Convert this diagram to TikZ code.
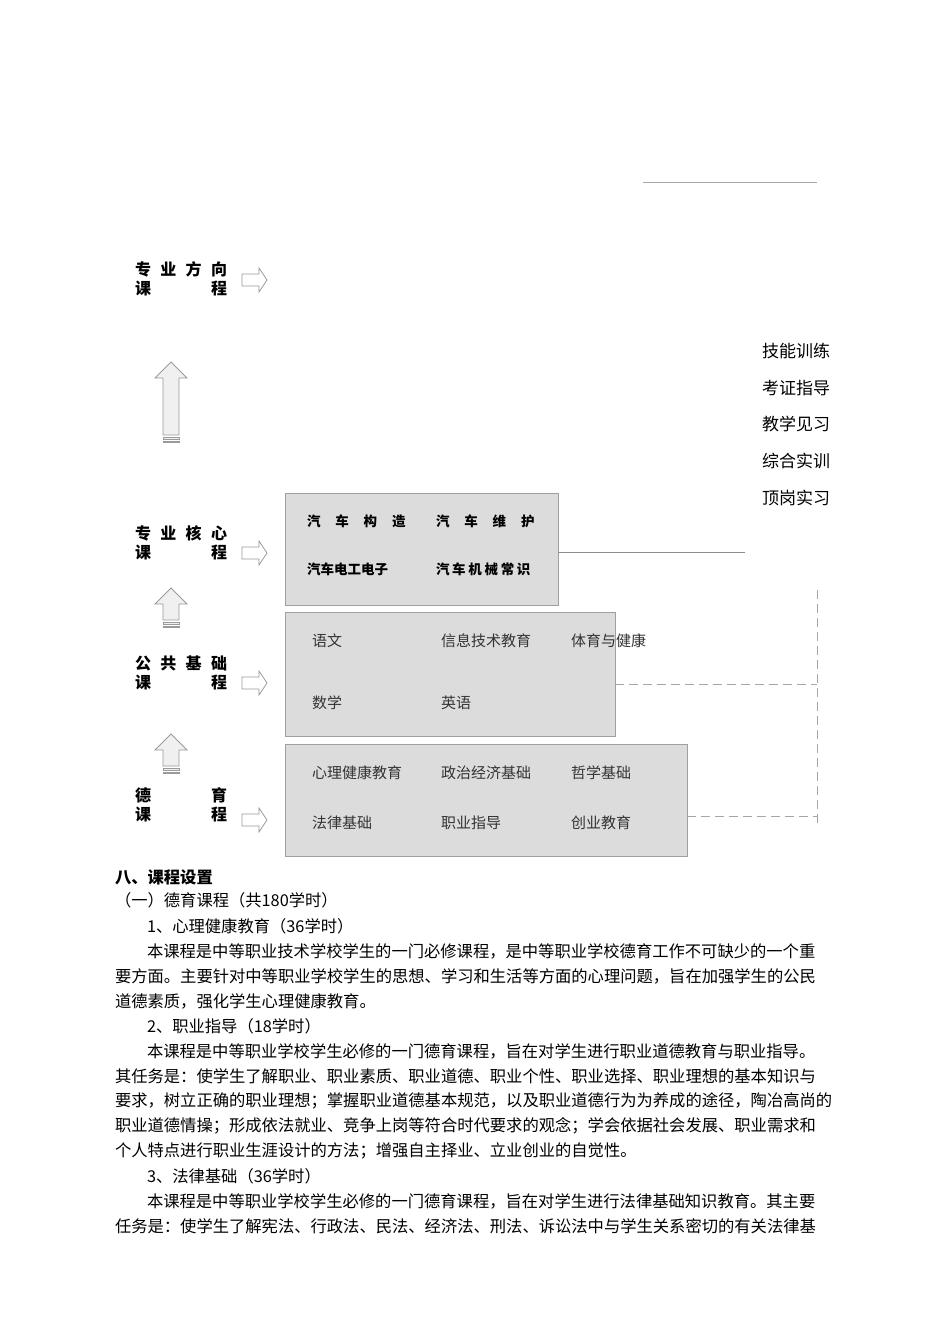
\documentclass[tikz,border=0pt]{standalone}
\usepackage{fontspec}
\setmainfont{Noto Sans CJK SC}
\definecolor{boxfill}{HTML}{DCDCDC}
\definecolor{boxline}{HTML}{A0A0A0}
\definecolor{arrline}{HTML}{9A9A9A}
\definecolor{arrfill}{HTML}{F0F0F0}
\newcommand\myrarrow[1]{\draw[arrline,fill=white,line width=0.8pt] (242,#1) ++(0,-6) -- ++(17,0) -- ++(0,-6) -- ++(8,12) -- ++(-8,12) -- ++(0,-6) -- ++(-17,0) -- cycle;}
\newcommand\myuarrow[3]{% x center, tip y, shaft end y
\draw[arrline,fill=arrfill,line width=0.8pt] (#1,#2) -- ++(16,16) -- ++(-8,0) |- (#1-8,#3) -- ++(0,#2-#3+16) -- ++(-8,0) -- cycle;
\draw[arrline,fill=arrfill,line width=0.8pt] (#1-8,#3+2) rectangle (#1+8,#3+4);
\draw[arrline,fill=arrfill,line width=0.8pt] (#1-8,#3+6) rectangle (#1+8,#3+7);}
\begin{document}
\begin{tikzpicture}[x=1pt,y=-1pt,
  every node/.style={inner sep=0pt,outer sep=0pt},
  box/.style={draw=boxline,fill=boxfill,line width=0.8pt},
  lbl/.style={anchor=north west,text width=92pt,align=left,font=\fontsize{16}{18.5}\selectfont\bfseries},
  core/.style={anchor=west,font=\fontsize{13.5}{15}\selectfont\bfseries},
  crs/.style={anchor=west,font=\fontsize{15}{17}\selectfont,text=black!80},
  prac/.style={anchor=west,font=\fontsize{17}{19}\selectfont},
  body/.style={anchor=west,font=\fontsize{16.3}{18}\selectfont},
  conn/.style={draw=black!45,line width=0.7pt},
  dconn/.style={draw=black!35,line width=0.7pt,dash pattern=on 9pt off 5pt}]
\useasboundingbox (0,0) rectangle (950,1344);
\draw[black!35,line width=0.7pt] (643,182) -- (817,182);
% labels
\node[lbl] (l1) at (135,262) {专\hfill 业\hfill 方\hfill 向\\课\hfill 程};
\node[lbl] (l2) at (135,526) {专\hfill 业\hfill 核\hfill 心\\课\hfill 程};
\node[lbl] (l3) at (135,656) {公\hfill 共\hfill 基\hfill 础\\课\hfill 程};
\node[lbl] (l4) at (135,788) {德\hfill 育\\课\hfill 程};
\myrarrow{280}
\myrarrow{553}
\myrarrow{683}
\myrarrow{820}
\myuarrow{171}{362}{435}
\myuarrow{171}{588}{620}
\myuarrow{171}{734}{766}
% boxes
\node[box,minimum width=273pt,minimum height=112pt,anchor=north west] (b1) at (285,493) {};
\node[box,minimum width=330pt,minimum height=124pt,anchor=north west] (b2) at (285,612) {};
\node[box,minimum width=402pt,minimum height=112pt,anchor=north west] (b3) at (285,744) {};
\node[core] (c1) at (307,521) {汽\hspace{1.1em}车\hspace{1.1em}构\hspace{1.1em}造};
\node[core] (c2) at (436,521) {汽\hspace{1.1em}车\hspace{1.1em}维\hspace{1.1em}护};
\node[core] (c3) at (307,569) {汽车电工电子};
\node[core] (c4) at (436,569) {汽\hspace{0.2em}车\hspace{0.2em}机\hspace{0.2em}械\hspace{0.2em}常\hspace{0.2em}识};
\node[crs] (p1) at (312,641) {语文};
\node[crs] (p2) at (441,641) {信息技术教育};
\node[crs] (p3) at (571,641) {体育与健康};
\node[crs] (p4) at (312,703) {数学};
\node[crs] (p5) at (441,703) {英语};
\node[crs] (d1) at (312,773) {心理健康教育};
\node[crs] (d2) at (441,773) {政治经济基础};
\node[crs] (d3) at (571,773) {哲学基础};
\node[crs] (d4) at (312,823) {法律基础};
\node[crs] (d5) at (441,823) {职业指导};
\node[crs] (d6) at (571,823) {创业教育};
% practice list
\node[prac] (s1) at (762,351) {技能训练};
\node[prac] (s2) at (762,388) {考证指导};
\node[prac] (s3) at (762,424) {教学见习};
\node[prac] (s4) at (762,461) {综合实训};
\node[prac] (s5) at (762,498) {顶岗实习};
\coordinate (e1) at (745,552);
\coordinate (vt) at (817,590);
\coordinate (vb) at (817,825);
\coordinate (h2) at (817,684);
\coordinate (h3) at (817,816);
\draw[conn] (b1.east |- e1) -- (e1);
\draw[dconn] (vt) -- (vb);
\draw[dconn] (b2.east |- h2) -- (h2);
\draw[dconn] (b3.east |- h3) -- (h3);
% body text
\node[body,font=\fontsize{16.3}{18}\selectfont\bfseries] (t1) at (115,877) {八、课程设置};
\node[body] (t2) at (115,900) {（一）德育课程（共180学时）};
\node[body] (t3) at (147,926) {1、心理健康教育（36学时）};
\node[body] (t4) at (147,951) {本课程是中等职业技术学校学生的一门必修课程，是中等职业学校德育工作不可缺少的一个重};
\node[body] (t5) at (115,976) {要方面。主要针对中等职业学校学生的思想、学习和生活等方面的心理问题，旨在加强学生的公民};
\node[body] (t6) at (115,1001) {道德素质，强化学生心理健康教育。};
\node[body] (t7) at (147,1026) {2、职业指导（18学时）};
\node[body] (t8) at (147,1051) {本课程是中等职业学校学生必修的一门德育课程，旨在对学生进行职业道德教育与职业指导。};
\node[body] (t9) at (115,1076) {其任务是：使学生了解职业、职业素质、职业道德、职业个性、职业选择、职业理想的基本知识与};
\node[body] (t10) at (115,1101) {要求，树立正确的职业理想；掌握职业道德基本规范，以及职业道德行为为养成的途径，陶冶高尚的};
\node[body] (t11) at (115,1126) {职业道德情操；形成依法就业、竞争上岗等符合时代要求的观念；学会依据社会发展、职业需求和};
\node[body] (t12) at (115,1151) {个人特点进行职业生涯设计的方法；增强自主择业、立业创业的自觉性。};
\node[body] (t13) at (147,1176) {3、法律基础（36学时）};
\node[body] (t14) at (147,1201) {本课程是中等职业学校学生必修的一门德育课程，旨在对学生进行法律基础知识教育。其主要};
\node[body] (t15) at (115,1226) {任务是：使学生了解宪法、行政法、民法、经济法、刑法、诉讼法中与学生关系密切的有关法律基};
\end{tikzpicture}
\end{document}
